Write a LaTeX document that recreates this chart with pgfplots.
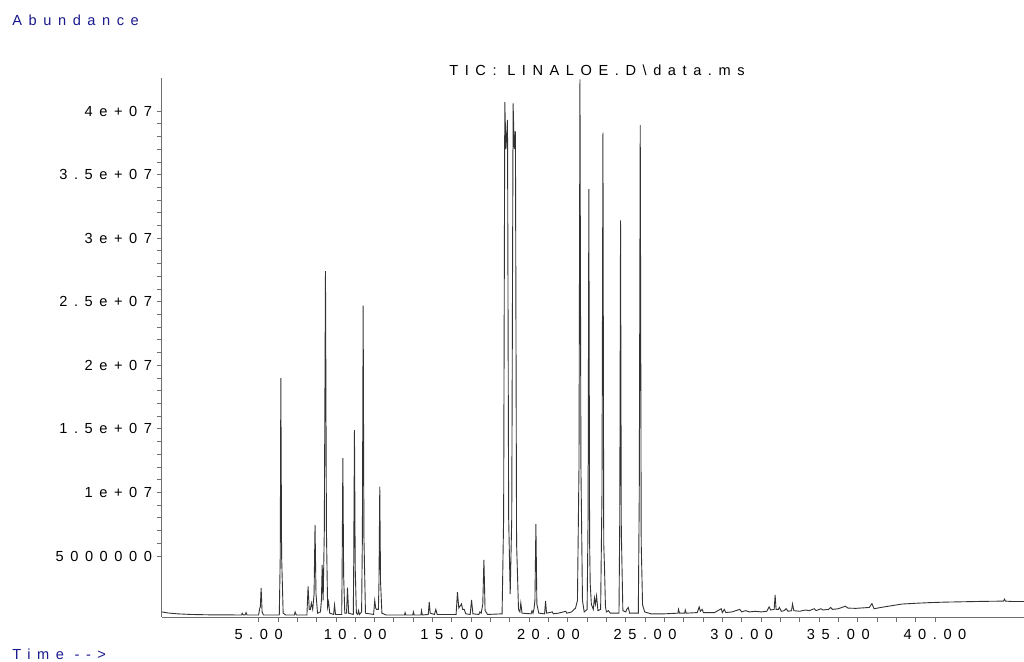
\documentclass[border=0pt]{standalone}
\usepackage{fontspec}
\setmainfont{Liberation Sans}
\newfontfamily\spaced[LetterSpace=45]{Liberation Sans}
\usepackage{pgfplots}
\pgfplotsset{compat=1.18}
\definecolor{labblue}{RGB}{25,25,140}
\definecolor{axgray}{RGB}{110,110,110}
\begin{document}
\begin{tikzpicture}
\useasboundingbox (-81pt,-22pt) rectangle (431pt,308.5pt);
\begin{axis}[
  scale only axis, width=431pt, height=269.5pt,
  xmin=0, xmax=44.61, ymin=0.2, ymax=42.6,
  axis x line=bottom, axis y line=left,
  axis line style={-, draw=axgray, line width=0.5pt},
  tick align=outside,
  major tick length=2.5pt, minor tick length=2.5pt,
  tick style={draw=axgray, line width=0.4pt},
  xtick={5,10,15,20,25,30,35,40},
  xticklabels={5.00,10.00,15.00,20.00,25.00,30.00,35.00,40.00},
  minor x tick num=4,
  ytick={5,10,15,20,25,30,35,40},
  yticklabels={5000000,1e+07,1.5e+07,2e+07,2.5e+07,3e+07,3.5e+07,4e+07},
  minor y tick num=4,
  ticklabel style={font=\spaced\fontsize{7.3}{8.5}\selectfont, text=black},
  yticklabel style={xshift=1pt},
  clip=true,
]
\addplot[black!80, line width=0.45pt] coordinates {
(0,0.6) (0.3,0.52) (0.8,0.45) (1.5,0.4) (2.5,0.37) (4.0,0.36) (4.12,0.36) (4.15,0.5) (4.2,0.36) (4.3,0.37) (4.35,0.55) (4.4,0.36)
(5.0,0.36) (5.06,0.9) (5.09,1.0) (5.13,2.49) (5.18,0.6) (5.25,0.36)
(6.07,0.36) (6.12,5) (6.15,19.0) (6.19,5) (6.27,0.5) (6.4,0.36)
(6.85,0.36) (6.89,0.6) (6.95,0.36)
(7.5,0.36) (7.56,2.6) (7.62,0.8) (7.68,0.8) (7.73,1.3) (7.8,0.8) (7.87,2) (7.92,7.44) (7.97,2) (8.05,0.5) (8.2,0.6) (8.25,1.5) (8.29,4.3) (8.34,1.5) (8.4,7) (8.46,27.4) (8.51,7) (8.57,1) (8.62,1.4) (8.68,0.5) (8.88,0.4) (8.93,1.15) (8.98,0.4)
(9.3,0.4) (9.32,3.5) (9.36,12.7) (9.4,3.5) (9.46,0.5) (9.55,0.5) (9.6,2.5) (9.66,0.5) (9.9,0.4) (9.92,4) (9.96,14.9) (10.0,4) (10.06,0.5) (10.13,0.4) (10.17,0.7) (10.22,0.4) (10.33,0.6) (10.37,6.5) (10.41,24.7) (10.45,6.5) (10.53,0.5)
(10.95,0.4) (11.01,1.5) (11.06,0.9) (11.1,0.8) (11.2,0.8) (11.23,3) (11.27,10.46) (11.31,3) (11.38,0.5) (11.6,0.36)
(12.55,0.36) (12.58,0.55) (12.62,0.36) (12.98,0.36) (13.01,0.6) (13.05,0.36) (13.4,0.36) (13.43,0.7) (13.47,0.36) (13.78,0.4) (13.83,1.38) (13.88,0.5) (14.1,0.4) (14.17,0.8) (14.24,0.4)
(15.22,0.4) (15.29,2.15) (15.36,0.9) (15.5,1.23) (15.56,0.8) (15.64,0.8) (15.72,0.45) (15.95,0.4) (16.02,1.54) (16.09,0.45) (16.4,0.4) (16.45,0.6) (16.52,0.5) (16.6,1.2) (16.66,4.7) (16.72,0.7) (16.85,0.4)
(17.6,0.45) (17.68,8) (17.74,40.7) (17.8,37) (17.88,39.3) (17.94,8) (18.02,2) (18.1,8) (18.17,40.6) (18.23,37) (18.29,38.4) (18.35,6) (18.45,0.8) (18.52,0.6) (18.57,1.3) (18.63,0.5)
(19.1,0.45) (19.15,0.7) (19.2,0.5) (19.25,0.8) (19.3,1.5) (19.35,7.5) (19.4,1.2) (19.5,0.5) (19.8,0.45) (19.85,1.46) (19.9,0.5)
(20.2,0.6) (20.25,0.45) (20.5,0.5) (20.9,0.65) (20.95,0.5) (21.2,0.6) (21.3,0.75) (21.4,0.9) (21.5,1.5) (21.58,12) (21.63,42.5) (21.68,12) (21.76,1.5) (21.85,0.6)
(22.0,0.8) (22.05,8) (22.09,33.85) (22.13,6) (22.16,2.85) (22.22,1.2) (22.32,0.8) (22.38,1.7) (22.43,1.2) (22.49,1.86) (22.56,0.7) (22.7,0.8) (22.77,10) (22.82,38.3) (22.86,6) (22.9,4.1) (22.95,1.0) (23.0,0.6) (23.1,0.7) (23.2,0.5)
(23.65,0.5) (23.69,8) (23.73,31.4) (23.77,7) (23.85,0.7) (24.0,0.6) (24.05,0.8) (24.13,0.95) (24.2,0.5) (24.65,0.5) (24.7,10) (24.75,38.9) (24.8,6) (24.87,1.15) (24.98,0.6) (25.3,0.45)
(26.0,0.45) (26.7,0.5) (26.73,0.8) (26.78,0.5) (27.05,0.5) (27.08,0.75) (27.13,0.5) (27.7,0.55) (27.8,1.0) (27.86,0.65) (27.95,0.8) (28.02,0.55) (28.6,0.55) (28.94,0.85) (29.0,0.55) (29.1,0.8) (29.18,0.55) (29.5,0.6) (29.7,0.7) (29.9,0.8) (30.0,0.6)
(30.2,0.7) (30.4,0.6) (30.7,0.65) (31.0,0.6) (31.3,0.65) (31.42,1.0) (31.5,0.75) (31.68,0.8) (31.73,1.93) (31.78,0.8) (31.9,0.8) (31.95,0.95) (32.05,0.65) (32.2,0.7) (32.3,0.85) (32.4,0.65) (32.58,0.7) (32.63,1.23) (32.7,0.7)
(33.0,0.65) (33.3,0.75) (33.5,0.7) (33.75,0.85) (33.85,0.7) (34.1,0.85) (34.2,0.75) (34.5,0.8) (34.6,0.95) (34.7,0.8) (35.0,0.85) (35.36,1.05) (35.5,0.9) (35.9,0.88) (36.3,0.92) (36.6,0.95) (36.74,1.25) (36.85,0.85)
(37.2,0.95) (37.8,1.1) (38.3,1.22) (39.0,1.28) (39.7,1.33) (40.5,1.37) (41.5,1.4) (42.5,1.43) (43.55,1.45) (43.6,1.6) (43.65,1.45) (44.0,1.42) (44.61,1.42)
};
\end{axis}
\node[anchor=west, inner sep=0pt, text=labblue, font=\spaced\fontsize{7.3}{8.5}\selectfont] at (-75pt,298.5pt) {Abundance};
\node[anchor=west, inner sep=0pt, text=labblue, font=\spaced\fontsize{7.3}{8.5}\selectfont] at (-75pt,-18.5pt) {Time -->};
\node[anchor=center, inner sep=0pt, text=black, font=\spaced\fontsize{7.3}{8.5}\selectfont] at (217.5pt,273.5pt) {TIC: LINALOE.D\textbackslash data.ms};
\end{tikzpicture}
\end{document}
